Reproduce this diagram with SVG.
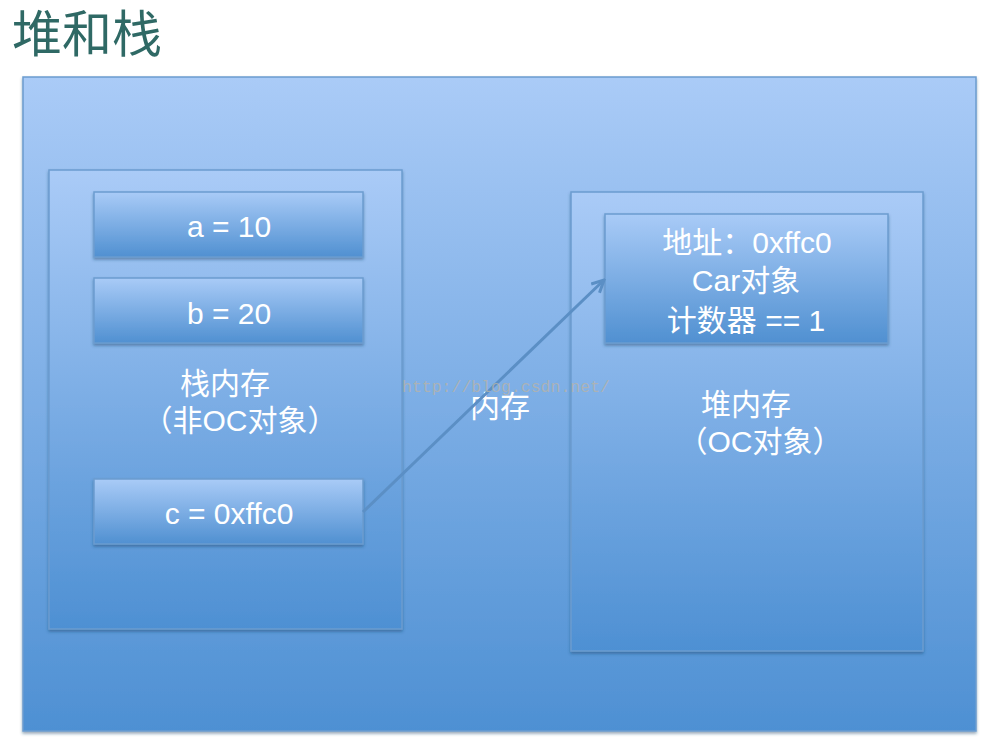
<svg xmlns="http://www.w3.org/2000/svg" width="992" height="752" viewBox="0 0 992 752">
<defs>
<linearGradient id="g" x1="0" y1="0" x2="0" y2="1">
<stop offset="0" stop-color="#aacbf7"/>
<stop offset="1" stop-color="#4e90d3"/>
</linearGradient>
<linearGradient id="gb" x1="0" y1="0" x2="0" y2="1">
<stop offset="0" stop-color="#a9cbf7"/>
<stop offset="1" stop-color="#5090d1"/>
</linearGradient>
<filter id="sh" x="-5%" y="-5%" width="110%" height="115%">
<feDropShadow dx="0" dy="2" stdDeviation="1.5" flood-color="#1f3f66" flood-opacity="0.45"/>
</filter>
<marker id="ah" viewBox="0 0 10 10" refX="9" refY="5" markerWidth="5" markerHeight="5" orient="auto" markerUnits="strokeWidth">
<path d="M1,1 L9,5 L1,9" fill="none" stroke="#5b8fc5" stroke-width="2"/>
</marker>
<style>
.panel{fill:url(#g);stroke:#6b9ccf;stroke-width:1.5;filter:url(#sh)}
.box{fill:url(#gb);stroke:#6b9ccf;stroke-width:1.5;filter:url(#sh)}
.t{font-family:"Liberation Sans","Noto Sans CJK SC",sans-serif;font-size:30px;fill:#ffffff;text-anchor:middle}
</style>
</defs>
<rect width="992" height="752" fill="#ffffff"/>
<text x="12" y="52" font-family="'Noto Sans CJK SC',sans-serif" font-size="50" fill="#2f6965">堆和栈</text>
<g id="memory">
<rect class="panel" x="23" y="77" width="953" height="654"/>
<text class="t" x="500" y="417">内存</text>
</g>
<g id="stack">
<rect class="panel" x="49" y="170" width="353" height="459"/>
<text class="t" x="225" y="394">栈内存</text>
<text class="t" x="240" y="431">（非OC对象）</text>
</g>
<g id="heap">
<rect class="panel" x="571" y="192" width="352" height="459"/>
<text class="t" x="746" y="415">堆内存</text>
<text class="t" x="760" y="452">（OC对象）</text>
</g>
<g id="a">
<rect class="box" x="94" y="192" width="269" height="65"/>
<text class="t" x="229" y="237">a = 10</text>
</g>
<g id="b">
<rect class="box" x="94" y="278" width="269" height="65"/>
<text class="t" x="229" y="324">b = 20</text>
</g>
<g id="c">
<rect class="box" x="94" y="479" width="269" height="65"/>
<text class="t" x="229" y="524">c = 0xffc0</text>
</g>
<g id="car">
<rect class="box" x="605" y="214" width="283" height="129"/>
<text class="t" x="747" y="253">地址：0xffc0</text>
<text class="t" x="746" y="291">Car对象</text>
<text class="t" x="746" y="331">计数器 == 1</text>
</g>
<g id="connectors">
<line x1="363" y1="512" x2="604" y2="280" stroke="#5b8fc5" stroke-width="3" marker-end="url(#ah)"/>
</g>
<text x="402" y="392" font-family="'Liberation Mono',monospace" font-size="16.5" fill="#b9b3a6" fill-opacity="0.75">http://blog.csdn.net/</text>
</svg>
